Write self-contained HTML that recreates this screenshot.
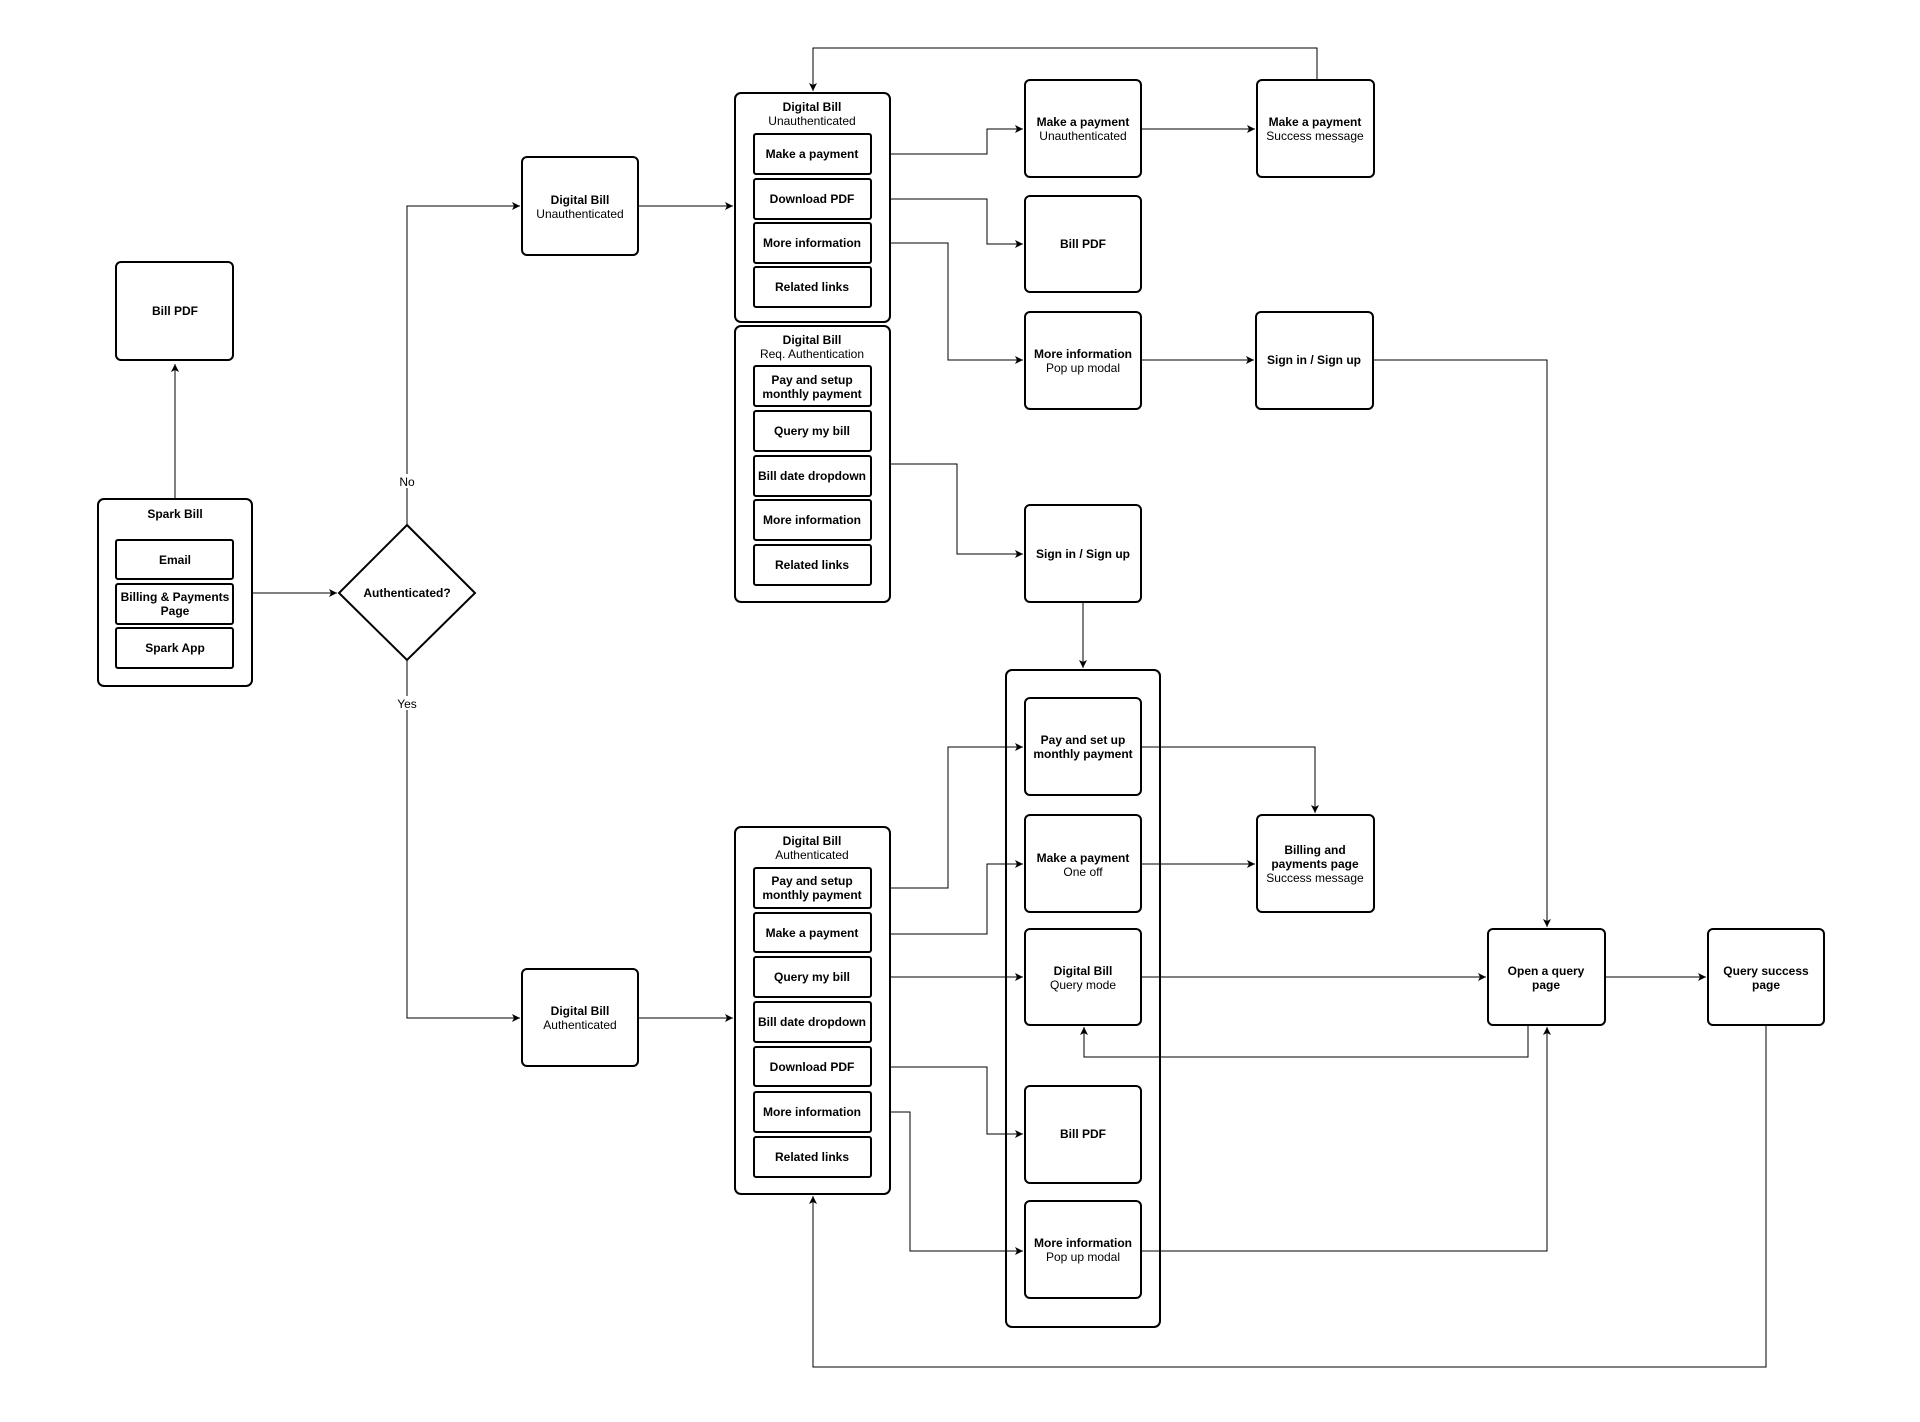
<!DOCTYPE html>
<html><head><meta charset="utf-8"><style>
html,body{margin:0;padding:0;background:#fff;}
svg{display:block;font-family:"Liberation Sans",Arial,sans-serif;}
.b{font-weight:bold;font-size:12px;}
.n{font-size:12px;}
</style></head><body>
<svg width="1920" height="1422" viewBox="0 0 1920 1422" xmlns="http://www.w3.org/2000/svg">
<defs>
<marker id="a" markerWidth="10" markerHeight="10" refX="8" refY="5" orient="auto" markerUnits="userSpaceOnUse">
<path d="M0,1 L8,5 L0,9 L2,5 Z" fill="#000"/>
</marker>
</defs>
<rect width="1920" height="1422" fill="#fff"/>
<rect x="1006" y="670" width="154" height="657" rx="6" fill="none" stroke="#000" stroke-width="2"/>
<g fill="none" stroke="#000" stroke-width="1">
<polyline points="175,499 175,364" marker-end="url(#a)"/>
<polyline points="252,593 337,593" marker-end="url(#a)"/>
<polyline points="407,524 407,206 520,206" marker-end="url(#a)"/>
<polyline points="407,660 407,1018 520,1018" marker-end="url(#a)"/>
<polyline points="638,206 733,206" marker-end="url(#a)"/>
<polyline points="638,1018 733,1018" marker-end="url(#a)"/>
<polyline points="1317,80 1317,48 813,48 813,91" marker-end="url(#a)"/>
<polyline points="871,154 987,154 987,129 1023,129" marker-end="url(#a)"/>
<polyline points="1141,129 1255,129" marker-end="url(#a)"/>
<polyline points="871,199 987,199 987,244 1023,244" marker-end="url(#a)"/>
<polyline points="871,243 948,243 948,360 1023,360" marker-end="url(#a)"/>
<polyline points="1141,360 1254,360" marker-end="url(#a)"/>
<polyline points="1373,360 1547,360 1547,927" marker-end="url(#a)"/>
<polyline points="890,464 957,464 957,554 1023,554" marker-end="url(#a)"/>
<polyline points="1083,602 1083,668" marker-end="url(#a)"/>
<polyline points="871,888 948,888 948,747 1023,747" marker-end="url(#a)"/>
<polyline points="1141,747 1315,747 1315,813" marker-end="url(#a)"/>
<polyline points="871,934 987,934 987,864 1023,864" marker-end="url(#a)"/>
<polyline points="1141,864 1255,864" marker-end="url(#a)"/>
<polyline points="871,977 1023,977" marker-end="url(#a)"/>
<polyline points="1141,977 1486,977" marker-end="url(#a)"/>
<polyline points="1605,977 1706,977" marker-end="url(#a)"/>
<polyline points="1528,1025 1528,1057 1084,1057 1084,1027" marker-end="url(#a)"/>
<polyline points="871,1067 987,1067 987,1134 1023,1134" marker-end="url(#a)"/>
<polyline points="871,1112 910,1112 910,1251 1023,1251" marker-end="url(#a)"/>
<polyline points="1141,1251 1547,1251 1547,1027" marker-end="url(#a)"/>
<polyline points="1766,1025 1766,1367 813,1367 813,1196" marker-end="url(#a)"/>
</g>
<rect x="398" y="474" width="20" height="14" fill="#fff"/>
<text x="407" y="486" class="n" text-anchor="middle">No</text>
<rect x="395" y="696" width="24" height="14" fill="#fff"/>
<text x="407" y="708" class="n" text-anchor="middle">Yes</text>

<g fill="#fff" stroke="#000" stroke-width="2">
<rect x="116" y="262" width="117" height="98" rx="5"/>
<rect x="98" y="499" width="154" height="187" rx="6"/>
<rect x="116" y="540" width="117" height="39" rx="2"/>
<rect x="116" y="584" width="117" height="40" rx="2"/>
<rect x="116" y="628" width="117" height="40" rx="2"/>
<polygon points="407,525 475,593 407,660 339,593"/>
<rect x="522" y="157" width="116" height="98" rx="5"/>
<rect x="522" y="969" width="116" height="97" rx="5"/>
<rect x="735" y="93" width="155" height="229" rx="6"/>
<rect x="735" y="326" width="155" height="276" rx="6"/>
<rect x="735" y="827" width="155" height="367" rx="6"/>
<rect x="754" y="134" width="117" height="40" rx="2"/>
<rect x="754" y="179" width="117" height="40" rx="2"/>
<rect x="754" y="223" width="117" height="40" rx="2"/>
<rect x="754" y="267" width="117" height="40" rx="2"/>
<rect x="754" y="366" width="117" height="40" rx="2"/>
<rect x="754" y="411" width="117" height="40" rx="2"/>
<rect x="754" y="456" width="117" height="40" rx="2"/>
<rect x="754" y="500" width="117" height="40" rx="2"/>
<rect x="754" y="545" width="117" height="40" rx="2"/>
<rect x="754" y="868" width="117" height="40" rx="2"/>
<rect x="754" y="913" width="117" height="39" rx="2"/>
<rect x="754" y="957" width="117" height="40" rx="2"/>
<rect x="754" y="1002" width="117" height="40" rx="2"/>
<rect x="754" y="1047" width="117" height="39" rx="2"/>
<rect x="754" y="1092" width="117" height="40" rx="2"/>
<rect x="754" y="1137" width="117" height="40" rx="2"/>
<rect x="1025" y="80" width="116" height="97" rx="5"/>
<rect x="1257" y="80" width="117" height="97" rx="5"/>
<rect x="1025" y="196" width="116" height="96" rx="5"/>
<rect x="1025" y="312" width="116" height="97" rx="5"/>
<rect x="1256" y="312" width="117" height="97" rx="5"/>
<rect x="1025" y="505" width="116" height="97" rx="5"/>
<rect x="1025" y="698" width="116" height="97" rx="5"/>
<rect x="1025" y="815" width="116" height="97" rx="5"/>
<rect x="1257" y="815" width="117" height="97" rx="5"/>
<rect x="1025" y="929" width="116" height="96" rx="5"/>
<rect x="1488" y="929" width="117" height="96" rx="5"/>
<rect x="1708" y="929" width="116" height="96" rx="5"/>
<rect x="1025" y="1086" width="116" height="97" rx="5"/>
<rect x="1025" y="1201" width="116" height="97" rx="5"/>
</g>

<g text-anchor="middle">
<text x="175" y="315" class="b">Bill PDF</text>
<text x="175" y="518" class="b">Spark Bill</text>
<text x="175" y="564" class="b">Email</text>
<text x="175" y="601" class="b">Billing &amp; Payments</text>
<text x="175" y="615" class="b">Page</text>
<text x="175" y="652" class="b">Spark App</text>
<text x="407" y="597" class="b">Authenticated?</text>
<text x="580" y="204" class="b">Digital Bill</text>
<text x="580" y="218" class="n">Unauthenticated</text>
<text x="580" y="1015" class="b">Digital Bill</text>
<text x="580" y="1029" class="n">Authenticated</text>

<text x="812" y="111" class="b">Digital Bill</text>
<text x="812" y="125" class="n">Unauthenticated</text>
<text x="812" y="158" class="b">Make a payment</text>
<text x="812" y="203" class="b">Download PDF</text>
<text x="812" y="247" class="b">More information</text>
<text x="812" y="291" class="b">Related links</text>

<text x="812" y="344" class="b">Digital Bill</text>
<text x="812" y="358" class="n">Req. Authentication</text>
<text x="812" y="384" class="b">Pay and setup</text>
<text x="812" y="398" class="b">monthly payment</text>
<text x="812" y="435" class="b">Query my bill</text>
<text x="812" y="480" class="b">Bill date dropdown</text>
<text x="812" y="524" class="b">More information</text>
<text x="812" y="569" class="b">Related links</text>

<text x="812" y="845" class="b">Digital Bill</text>
<text x="812" y="859" class="n">Authenticated</text>
<text x="812" y="885" class="b">Pay and setup</text>
<text x="812" y="899" class="b">monthly payment</text>
<text x="812" y="937" class="b">Make a payment</text>
<text x="812" y="981" class="b">Query my bill</text>
<text x="812" y="1026" class="b">Bill date dropdown</text>
<text x="812" y="1071" class="b">Download PDF</text>
<text x="812" y="1116" class="b">More information</text>
<text x="812" y="1161" class="b">Related links</text>

<text x="1083" y="126" class="b">Make a payment</text>
<text x="1083" y="140" class="n">Unauthenticated</text>
<text x="1315" y="126" class="b">Make a payment</text>
<text x="1315" y="140" class="n">Success message</text>
<text x="1083" y="248" class="b">Bill PDF</text>
<text x="1083" y="358" class="b">More information</text>
<text x="1083" y="372" class="n">Pop up modal</text>
<text x="1314" y="364" class="b">Sign in / Sign up</text>
<text x="1083" y="558" class="b">Sign in / Sign up</text>

<text x="1083" y="744" class="b">Pay and set up</text>
<text x="1083" y="758" class="b">monthly payment</text>
<text x="1083" y="862" class="b">Make a payment</text>
<text x="1083" y="876" class="n">One off</text>
<text x="1315" y="854" class="b">Billing and</text>
<text x="1315" y="868" class="b">payments page</text>
<text x="1315" y="882" class="n">Success message</text>
<text x="1083" y="975" class="b">Digital Bill</text>
<text x="1083" y="989" class="n">Query mode</text>
<text x="1546" y="975" class="b">Open a query</text>
<text x="1546" y="989" class="b">page</text>
<text x="1766" y="975" class="b">Query success</text>
<text x="1766" y="989" class="b">page</text>
<text x="1083" y="1138" class="b">Bill PDF</text>
<text x="1083" y="1247" class="b">More information</text>
<text x="1083" y="1261" class="n">Pop up modal</text>
</g>
</svg>
</body></html>
